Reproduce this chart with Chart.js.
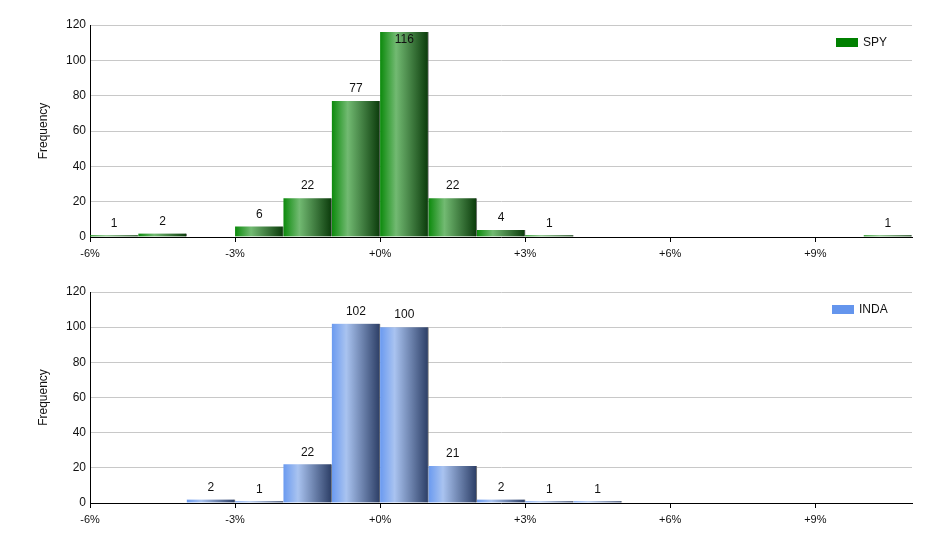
<!DOCTYPE html>
<html>
<head>
<meta charset="utf-8">
<script src="https://cdn.jsdelivr.net/npm/chart.js@4/dist/chart.umd.min.js"></script>
<style>
  html, body { margin: 0; padding: 0; background: #fff; width: 940px; height: 550px; overflow: hidden; }
  .wrap { position: absolute; left: 0; width: 940px; height: 270px; }
  #w1 { top: 0; }
  #w2 { top: 267px; }
</style>
</head>
<body>
<div class="wrap" id="w1"><canvas id="c1"></canvas></div>
<div class="wrap" id="w2"><canvas id="c2"></canvas></div>
<script>
// Histogram bins: lower edge of each 1% bin
const binStarts = [-6, -5, -4, -3, -2, -1, 0, 1, 2, 3, 4, 5, 6, 7, 8, 9, 10];
const spyCounts  = [1, 2, 0, 6, 22, 77, 116, 22, 4, 1, 0, 0, 0, 0, 0, 0, 1];
const indaCounts = [0, 0, 2, 1, 22, 102, 100, 21, 2, 1, 1, 0, 0, 0, 0, 0, 0];
const xTickValues = [-6, -3, 0, 3, 6, 9];
const yTickValues = [0, 20, 40, 60, 80, 100, 120];
const seriesNames = ['SPY', 'INDA'];

const FONT = '"Liberation Sans", Arial, sans-serif';

function fmtPct(v) {
  if (v === 0) return '+0%';
  return (v > 0 ? '+' : '') + v + '%';
}

const valueLabelPlugin = {
  id: 'valueLabels',
  afterDatasetsDraw(chart) {
    const ctx = chart.ctx;
    const area = chart.chartArea;
    ctx.save();
    ctx.font = '12px ' + FONT;
    ctx.fillStyle = '#111';
    ctx.textAlign = 'center';
    ctx.textBaseline = 'middle';
    chart.data.datasets.forEach((ds, di) => {
      const meta = chart.getDatasetMeta(di);
      meta.data.forEach((bar, i) => {
        const v = ds.data[i].y;
        if (!v) return;
        let y = bar.y - 12;
        if (y < area.top + 15) y = area.top + 15;
        ctx.fillText(String(v), bar.x, y);
      });
    });
    ctx.restore();
  }
};

const legendPlugin = {
  id: 'boxLegend',
  afterDraw(chart, args, opts) {
    const ctx = chart.ctx;
    const area = chart.chartArea;
    const ds = chart.data.datasets[0];
    ctx.save();
    const bx = area.right - opts.rightOffset;
    const by = area.top + 13;
    ctx.fillStyle = opts.color;
    ctx.fillRect(bx, by, 22, 9);
    ctx.fillStyle = '#111';
    ctx.font = '12px ' + FONT;
    ctx.textAlign = 'left';
    ctx.textBaseline = 'middle';
    ctx.fillText(ds.label, bx + 27, by + 5);
    ctx.restore();
  }
};

function makeGradientFn(stops, fallback) {
  return function (c) {
    const chart = c.chart;
    const xs = chart.scales && chart.scales.x;
    if (!xs || c.type !== 'data' || !c.raw) return fallback;
    const x0 = xs.getPixelForValue(c.raw.x - 0.5);
    const x1 = xs.getPixelForValue(c.raw.x + 0.5);
    if (!isFinite(x0) || !isFinite(x1)) return fallback;
    const g = chart.ctx.createLinearGradient(x0, 0, x1, 0);
    stops.forEach(s => g.addColorStop(s[0], s[1]));
    return g;
  };
}

function buildChart(canvasId, label, counts, baseColor, stops, padBottom, legendRight) {
  const data = binStarts.map((b, i) => ({ x: b + 0.5, y: counts[i] }));
  return new Chart(document.getElementById(canvasId), {
    type: 'bar',
    data: {
      datasets: [{
        label: label,
        data: data,
        backgroundColor: makeGradientFn(stops, baseColor),
        borderColor: 'rgba(110,110,110,0.9)',
        borderWidth: { top: 0, left: 0, bottom: 0, right: 1 },
        borderSkipped: false,
        barPercentage: 1.0,
        categoryPercentage: 1.0
      }]
    },
    options: {
      responsive: true,
      maintainAspectRatio: false,
      animation: false,
      devicePixelRatio: 1,
      layout: { padding: { left: 0, right: 28, top: 25, bottom: padBottom } },
      plugins: {
        legend: { display: false },
        tooltip: { enabled: false },
        boxLegend: { color: baseColor, rightOffset: legendRight }
      },
      scales: {
        x: {
          type: 'linear',
          offset: false,
          min: binStarts[0],
          max: binStarts[binStarts.length - 1] + 1,
          afterBuildTicks: (s) => { s.ticks = xTickValues.map(v => ({ value: v })); },
          afterFit: (s) => { s.height = 20; },
          ticks: {
            includeBounds: false,
            autoSkip: false,
            maxRotation: 0,
            padding: 5,
            color: '#111',
            font: { family: FONT, size: 11 },
            callback: (v) => fmtPct(v)
          },
          grid: { offset: false, drawOnChartArea: false, drawTicks: true, tickLength: 5, color: '#000' },
          border: { display: true, color: '#000', width: 1 }
        },
        y: {
          min: 0,
          max: 120,
          afterBuildTicks: (s) => { s.ticks = yTickValues.map(v => ({ value: v })); },
          afterFit: (s) => { s.width = 90; },
          ticks: {
            padding: 4,
            color: '#111',
            font: { family: FONT, size: 12 }
          },
          grid: { color: '#c8c8c8', drawTicks: false, lineWidth: 1 },
          border: { display: true, color: '#000', width: 1 },
          title: {
            display: true,
            text: 'Frequency',
            color: '#111',
            font: { family: FONT, size: 12 },
            padding: { top: 36, bottom: 0 }
          }
        }
      }
    },
    plugins: [valueLabelPlugin, legendPlugin]
  });
}

buildChart('c1', seriesNames[0], spyCounts, '#008000',
  [[0, '#0b8a0b'], [0.33, '#72ba72'], [1, '#0a3a0a']], 13, 76);
buildChart('c2', seriesNames[1], indaCounts, '#6495ED',
  [[0, '#6a9af0'], [0.3, '#a9c3f0'], [1, '#2b3d65']], 14, 80);
</script>
</body>
</html>
